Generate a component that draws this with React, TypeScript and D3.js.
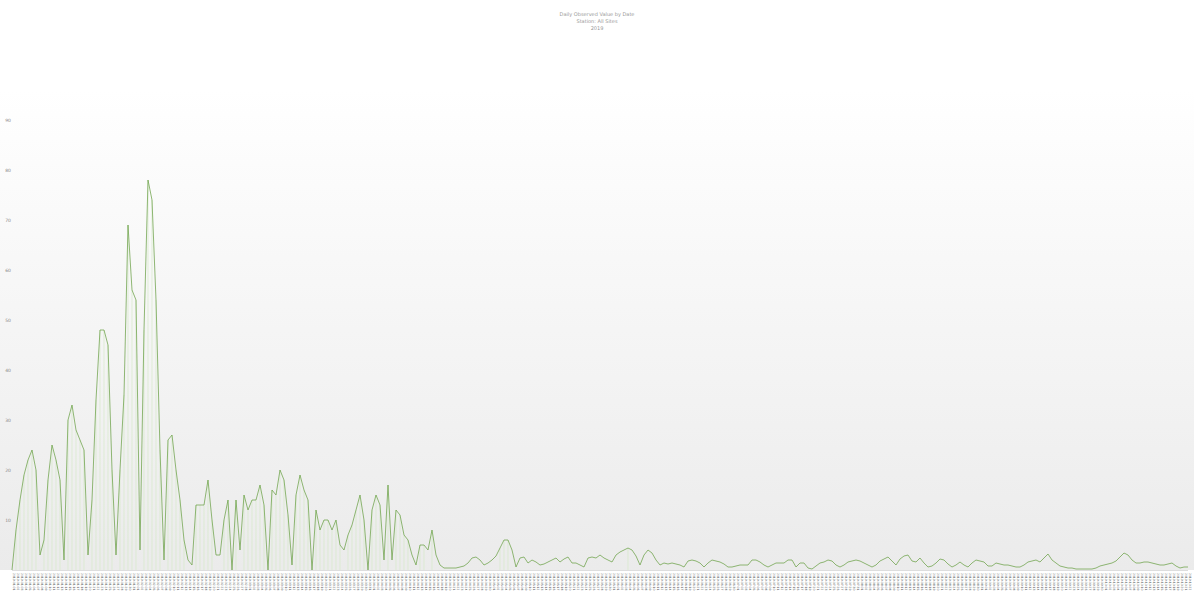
import React from "react";
import * as d3 from "d3";

const titleLines = ["Daily Observed Value by Date", "Station: All Sites", "2019"];
const yTicks = [10, 20, 30, 40, 50, 60, 70, 80, 90];

const values: number[] = [
  0, 8, 14, 19, 22, 24, 20, 3, 6, 18,
  25, 22, 18, 2, 30, 33, 28, 26, 24, 3,
  14, 34, 48, 48, 45, 20, 3, 20, 35, 69,
  56, 54, 4, 48, 78, 74, 54, 24, 2, 26,
  27, 20, 14, 6, 2, 1,
  13, 13, 13, 18, 10, 3, 3, 10, 14, 0,
  14, 4, 15, 12, 14, 14, 17, 13, 0, 16,
  15, 20, 18, 11, 1, 15, 19, 16, 14, 0,
  12, 8, 10, 10, 8, 10, 5, 4, 7, 9,
  12, 15, 10, 0, 12, 15, 13, 2, 17, 2,
  12, 11, 7, 6, 3, 1, 5, 5, 4, 8,
  3, 1, 0.4, 0.4, 0.4, 0.4, 0.6, 0.8, 1.4, 2.4,
  2.6, 2, 1, 1.4, 2, 2.8, 4.4, 6, 6, 4,
  0.6, 2.4, 2.6, 1.4, 2, 1.6, 1, 1.2, 1.6, 2,
  2.4, 1.6, 2.2, 2.6, 1.4, 1.4, 1, 0.6, 2.4, 2.6,
  2.4, 3, 2.4, 2, 1.6, 3, 3.6, 4, 4.4, 4,
  2.8, 1, 3, 4, 3.4, 2, 1, 1.4, 1.2, 1.4,
  1.2, 1, 0.6, 1.8, 2, 1.8, 1.4, 0.6, 1.4, 2,
  1.8, 1.6, 1.2, 0.6, 0.6, 0.8, 1, 1, 1, 2,
  2, 1.6, 1, 0.6, 1, 1.4, 1.4, 1.4, 2, 2,
  0.6, 1.4, 1.4, 0.4, 0.2, 0.8, 1.4, 1.6, 2, 1.8,
  1, 0.6, 1, 1.6, 1.8, 2, 1.8, 1.4, 1, 0.6,
  1, 1.8, 2.2, 2.6, 1.8, 1, 2.2, 2.8, 3, 1.8,
  1.6, 2.4, 1.4, 0.6, 0.8, 1.4, 2.2, 2, 1.2, 0.6,
  1, 1.6, 1, 0.6, 1.4, 2, 1.8, 1.6, 0.8, 0.8,
  1.4, 1.2, 1, 1, 0.8, 0.6, 0.6, 1, 1.6, 1.8,
  2, 1.6, 2.4, 3.2, 2, 1.4, 0.8, 0.6, 0.4, 0.4,
  0.2, 0.2, 0.2, 0.2, 0.2, 0.4, 0.8, 1, 1.2, 1.4,
  1.8, 2.6, 3.4, 3, 2, 1.4, 1.4, 1.6, 1.6, 1.4,
  1.2, 1, 1, 1.2, 1.4, 0.8, 0.4, 0.6, 0.6,
];

const fmt = d3.timeFormat("%Y-%m-%d");
const start = new Date(2019, 0, 1);
const categories: string[] = values.map((_, i) => fmt(d3.timeDay.offset(start, i)));

const W = 1194;
const H = 591;
const left = 12;
const right = 1188;
const top = 120;
const bottom = 570;

export default function App() {
  const x = d3.scalePoint<string>().domain(categories).range([left, right]);
  const y = d3.scaleLinear().domain([0, 90]).range([bottom, top]);
  const line = d3
    .line<number>()
    .x((_, i) => x(categories[i]) as number)
    .y((d) => y(d));

  return (
    <svg
      width={W}
      height={H}
      style={{ position: "absolute", left: 0, top: 0, background: "#fff" }}
      fontFamily="DejaVu Sans, sans-serif"
    >
      <defs>
        <linearGradient id="bg" x1="0" y1="0" x2="0" y2="1">
          <stop offset="0" stopColor="#ffffff" />
          <stop offset="1" stopColor="#ebebeb" />
        </linearGradient>
      </defs>
      <rect x={0} y={90} width={W} height={bottom - 90} fill="url(#bg)" />
      {titleLines.map((t, i) => (
        <text
          key={i}
          x={W / 2}
          y={16 + i * 7}
          textAnchor="middle"
          fontSize={5}
          fill="#999"
        >
          {t}
        </text>
      ))}
      {yTicks.map((t) => (
        <text key={t} x={8} y={y(t) + 2} textAnchor="middle" fontSize={4.5} fill="#888">
          {t}
        </text>
      ))}
      <g>
        {values.map((v, i) =>
          v > 4 ? (
            <line
              key={i}
              x1={x(categories[i])}
              x2={x(categories[i])}
              y1={y(0)}
              y2={y(v)}
              stroke="#d6e9c8"
              strokeWidth={0.7}
            />
          ) : null
        )}
      </g>
      <path d={line(values) || ""} fill="none" stroke="#74a652" strokeWidth={0.8} />
      <line x1={left} x2={right} y1={bottom + 0.5} y2={bottom + 0.5} stroke="#ddd" strokeWidth={1} />
      <g>
        {categories.map((c, i) => {
          const cx = x(c) as number;
          return (
            <text
              key={c}
              transform={`translate(${cx + 1},${573}) rotate(90)`}
              fontSize={3}
              fill="#555"
            >
              {c}
            </text>
          );
        })}
      </g>
    </svg>
  );
}
